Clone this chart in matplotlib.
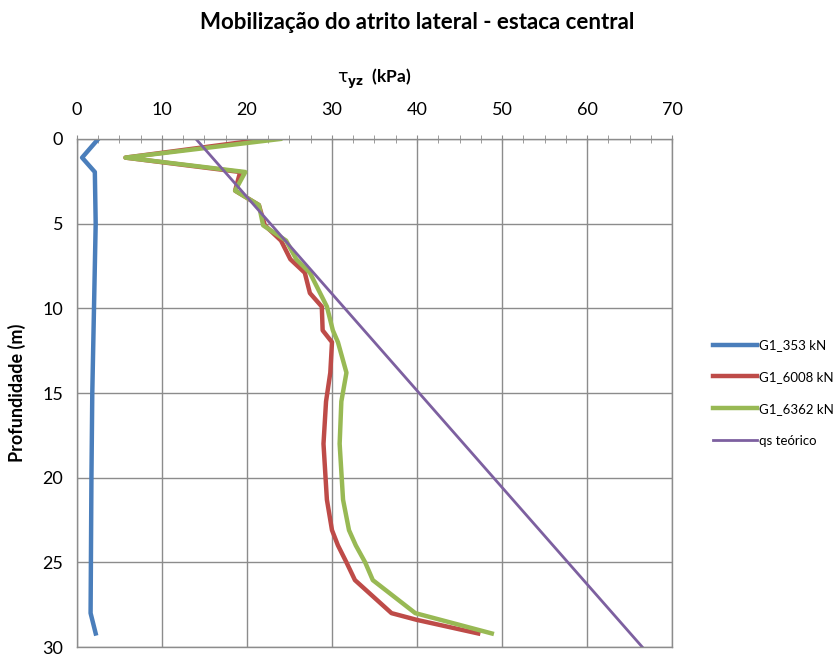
import matplotlib
matplotlib.use("Agg")
import matplotlib.pyplot as plt
from matplotlib.ticker import MultipleLocator

plt.rcParams["font.family"] = ["Lato", "DejaVu Sans"]

# Depth (m) and shaft friction tau_yz (kPa)
depth_353 = [0, 1.1, 1.95, 5, 10, 15, 20, 28.0, 29.2]
tau_353 = [2.5, 0.6, 2.1, 2.2, 2.0, 1.8, 1.7, 1.6, 2.2]

depth_load = [0, 1.1, 1.95, 3.05, 3.9, 5.1, 6.0, 7.1, 7.9, 9.1, 9.9, 11.3, 12.0,
              13.8, 15.5, 18.0, 21.3, 23.1, 24.0, 25.0, 26.05, 28.0, 28.4, 29.2]
tau_6008 = [22.3, 5.7, 19.2, 18.6, 21.4, 22.1, 24.0, 25.1, 26.8, 27.4, 28.8, 28.9, 30.0,
            29.8, 29.3, 29.0, 29.4, 30.0, 30.7, 31.7, 32.7, 37.0, 40.0, 47.2]
tau_6362 = [23.9, 5.7, 19.8, 18.6, 21.4, 21.9, 24.6, 25.8, 27.4, 28.6, 29.4, 30.1, 30.7,
            31.7, 31.1, 30.9, 31.3, 32.0, 32.8, 33.9, 34.8, 39.8, 42.8, 48.8]

depth_qs = [0, 30]
tau_qs = [14.0, 66.5]

fig = plt.figure(figsize=(8.35, 6.55), dpi=100)
ax = fig.add_axes([0.0922, 0.0122, 0.7126, 0.7756])

ax.plot(tau_353, depth_353, color="#4A7EBB", lw=3.2, label="G1_353 kN")
ax.plot(tau_6008, depth_load, color="#BE4B48", lw=3.2, label="G1_6008 kN")
ax.plot(tau_6362, depth_load, color="#98B954", lw=3.2, label="G1_6362 kN")
ax.plot(tau_qs, depth_qs, color="#7D60A0", lw=2.0, label="qs teórico")

ax.set_xlim(0, 70)
ax.set_ylim(30, 0)
ax.xaxis.set_major_locator(MultipleLocator(10))
ax.xaxis.set_minor_locator(MultipleLocator(2.5))
ax.yaxis.set_major_locator(MultipleLocator(5))
ax.xaxis.tick_top()
ax.xaxis.set_label_position("top")
ax.tick_params(axis="x", which="both", direction="inout", length=6, color="#8C8C8C",
               labelsize=13, pad=12)
ax.tick_params(axis="y", which="both", length=0, labelsize=13, pad=10)
ax.grid(True, which="major", color="#8C8C8C", lw=1.0)
for s in ax.spines.values():
    s.set_color("#8C8C8C")
    s.set_linewidth(1.0)

ax.set_xlabel(r"$\mathrm{\tau}_{\mathbf{yz}}$  (kPa)", fontsize=12.5, fontweight="bold", labelpad=14)
ax.set_ylabel("Profundidade (m)", fontsize=13, fontweight="bold", labelpad=12)

fig.text(0.5, 0.966, "Mobilização do atrito lateral - estaca central", ha="center", va="center",
         fontsize=16, fontweight="bold")

ax.legend(loc="center left", bbox_to_anchor=(1.06, 0.5), frameon=False, fontsize=9.5,
          handlelength=3.3, labelspacing=1.5, handletextpad=0.2, borderaxespad=0)

fig.savefig("out.png", dpi=100)
